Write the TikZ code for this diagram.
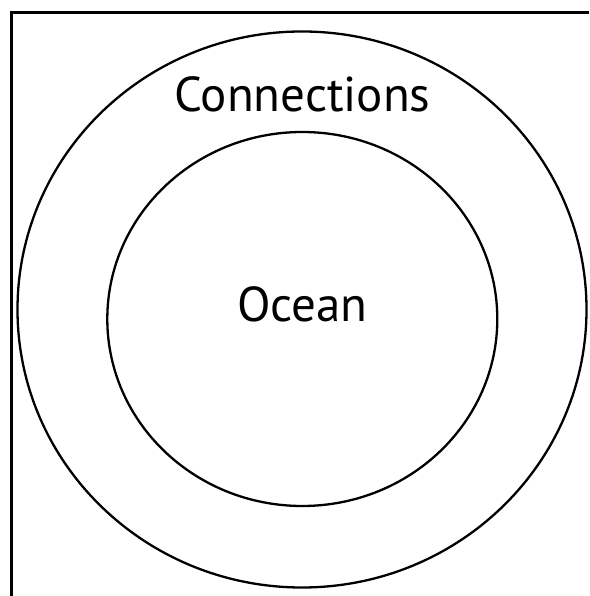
\documentclass[tikz,border=0pt]{standalone}
\usepackage{fontspec}
\usetikzlibrary{shapes.geometric}
\setmainfont{PT Sans}
\begin{document}
\begin{tikzpicture}[x=1pt,y=1pt,
  ring/.style={draw=black,line width=2.3pt},
  frameline/.style={draw=black,line width=2.6pt},
  label/.style={font=\fontsize{49}{52}\selectfont,anchor=base,inner sep=0pt}]
\useasboundingbox (0,0) rectangle (589,596);
\coordinate (tl) at (11.5,583.3);
\coordinate (tr) at (589,583.3);
\coordinate (bl) at (11.5,0);
\draw[frameline] (tr) -- (tl) -- (bl);
\node[ring,ellipse,minimum width=569pt,minimum height=556pt,inner sep=0pt] (outer) at (302,286.5) {};
\node[ring,ellipse,minimum width=390pt,minimum height=374pt,inner sep=0pt] (inner) at (302.3,277) {};
\node[label] (conn) at (302.5,484.3) {Connections};
\node[label] (ocean) at (302.5,274.3) {Ocean};
\end{tikzpicture}
\end{document}
